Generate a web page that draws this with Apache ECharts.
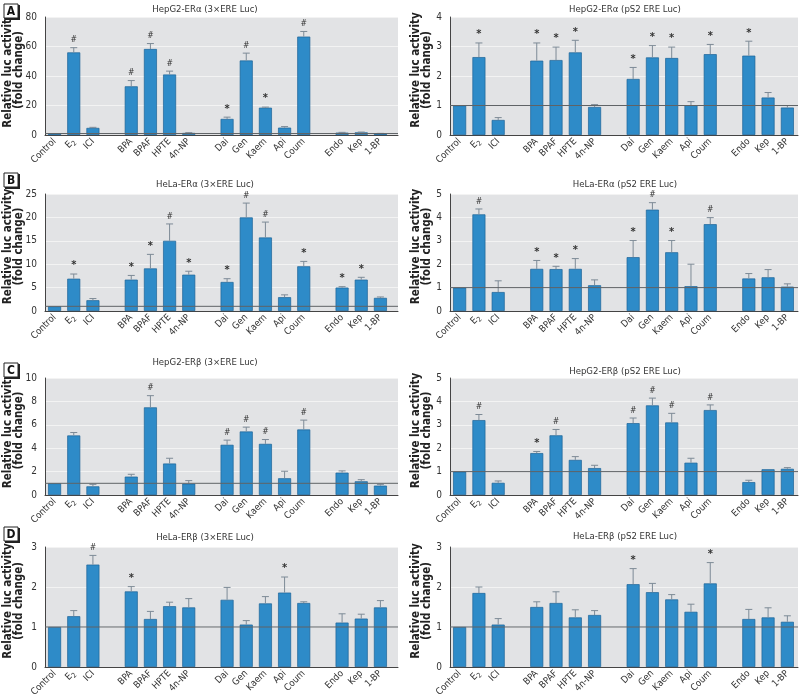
<!DOCTYPE html>
<html><head><meta charset="utf-8">
<script src="https://cdn.jsdelivr.net/npm/echarts@6/dist/echarts.min.js"></script>
<style>html,body{margin:0;padding:0;background:#fff}#c{width:800px;height:698px}</style>
</head><body><div id="c"></div><script>
// ---- categories (four groups separated by a blank slot) ----
const groups = [['Control','E2','ICI'],['BPA','BPAF','HPTE','4n-NP'],['Dai','Gen','Kaem','Api','Coum'],['Endo','Kep','1-BP']];

// ---- A: HepG2-ERα ----
const aLeftMean = [1.0, 56, 4.8, 33, 58.3, 41, 1.4, 10.9, 50.5, 18.5, 5.0, 66.7, 1.6, 1.8, 0.9];
const aLeftTop  = [1.0, 59.2, 5.2, 36.9, 62, 43.3, 1.6, 12.1, 55.5, 18.9, 5.7, 70.2, 1.8, 2.0, 1.1];
const aLeftSig  = ['', '#', '', '#', '#', '#', '', '*', '#', '*', '', '#', '', '', ''];
const aRightMean = [1.0, 2.64, 0.51, 2.52, 2.54, 2.8, 0.95, 1.9, 2.63, 2.61, 1.01, 2.74, 2.69, 1.27, 0.93];
const aRightTop  = [1.0, 3.12, 0.59, 3.12, 2.98, 3.21, 1.03, 2.29, 3.03, 2.98, 1.13, 3.07, 3.18, 1.44, 1.0];
const aRightSig  = ['', '*', '', '*', '*', '*', '', '*', '*', '*', '', '*', '*', '', ''];
// ---- B: HeLa-ERα ----
const bLeftMean = [1.0, 6.9, 2.3, 6.7, 9.1, 15.0, 7.76, 6.2, 20.0, 15.7, 2.95, 9.55, 5.0, 6.7, 2.8];
const bLeftTop  = [1.0, 7.9, 2.66, 7.6, 12.1, 18.6, 8.5, 6.9, 23.06, 19.0, 3.45, 10.6, 5.2, 7.2, 3.0];
const bLeftSig  = ['', '*', '', '*', '*', '#', '*', '*', '#', '#', '', '*', '*', '*', ''];
const bRightMean = [1.0, 4.13, 0.81, 1.8, 1.79, 1.8, 1.1, 2.3, 4.33, 2.51, 1.06, 3.71, 1.39, 1.44, 1.04];
const bRightTop  = [1.0, 4.36, 1.29, 2.16, 1.91, 2.24, 1.33, 3.01, 4.63, 3.01, 2.0, 3.99, 1.6, 1.77, 1.16];
const bRightSig  = ['', '#', '', '*', '*', '*', '', '*', '#', '*', '', '#', '', '', ''];
// ---- C: HepG2-ERβ ----
const cLeftMean = [1.0, 5.09, 0.74, 1.57, 7.49, 2.69, 0.97, 4.29, 5.43, 4.37, 1.43, 5.6, 1.91, 1.17, 0.8];
const cLeftTop  = [1.0, 5.34, 0.91, 1.77, 8.49, 3.14, 1.23, 4.69, 5.8, 4.74, 2.03, 6.4, 2.06, 1.31, 0.91];
const cLeftSig  = ['', '', '', '', '#', '', '', '#', '#', '#', '', '#', '', '', ''];
const cRightMean = [1.0, 3.2, 0.52, 1.79, 2.55, 1.5, 1.15, 3.07, 3.83, 3.1, 1.38, 3.63, 0.55, 1.1, 1.12];
const cRightTop  = [1.0, 3.44, 0.6, 1.86, 2.8, 1.64, 1.27, 3.29, 4.14, 3.49, 1.57, 3.85, 0.63, 1.1, 1.17];
const cRightSig  = ['', '#', '', '*', '#', '', '', '#', '#', '#', '', '#', '', '', ''];
// ---- D: HeLa-ERβ ----
const dLeftMean = [1.0, 1.27, 2.56, 1.89, 1.2, 1.52, 1.49, 1.68, 1.06, 1.59, 1.86, 1.6, 1.11, 1.21, 1.49];
const dLeftTop  = [1.0, 1.41, 2.79, 2.01, 1.39, 1.62, 1.71, 1.99, 1.16, 1.76, 2.25, 1.63, 1.33, 1.32, 1.66];
const dLeftSig  = ['', '', '#', '*', '', '', '', '', '', '', '*', '', '', '', ''];
const dRightMean = [1.0, 1.85, 1.06, 1.5, 1.6, 1.24, 1.3, 2.07, 1.87, 1.69, 1.38, 2.09, 1.2, 1.24, 1.13];
const dRightTop  = [1.0, 2.0, 1.21, 1.63, 1.88, 1.43, 1.41, 2.46, 2.09, 1.81, 1.57, 2.61, 1.44, 1.48, 1.28];
const dRightSig  = ['', '', '', '', '', '', '', '*', '', '', '', '*', '', '', ''];

// ---- y axis tick settings ----
const yMax      = {aL: 80, aR: 4, bL: 25, bR: 5, cL: 10, cR: 5, dL: 3, dR: 3};
const yInterval = {aL: 20, aR: 1, bL: 5, bR: 1, cL: 2, cR: 1, dL: 1, dR: 1};
const titles = {
  aL: 'HepG2-ERα (3×ERE Luc)', aR: 'HepG2-ERα (pS2 ERE Luc)',
  bL: 'HeLa-ERα (3×ERE Luc)',  bR: 'HeLa-ERα (pS2 ERE Luc)',
  cL: 'HepG2-ERβ (3×ERE Luc)', cR: 'HepG2-ERβ (pS2 ERE Luc)',
  dL: 'HeLa-ERβ (3×ERE Luc)',  dR: 'HeLa-ERβ (pS2 ERE Luc)'
};
const rowLetters = ['A', 'B', 'C', 'D'];
const yName = 'Relative luc activity\n(fold change)';
const refValue = 1;

// ---- layout (pixels) ----
const FONT = "'Liberation Sans Narrow','DejaVu Sans Condensed','Arial Narrow','Roboto Condensed','Liberation Sans',sans-serif";
const cols = [
  {plotL: 45, plotR: 398, dataW: 345, titleX: 205, nameX: 14},
  {plotL: 450, plotR: 798, dataW: 347, titleX: 625, nameX: 422}
];
const rows = [
  {top: 17, bottom: 135, titleY: [10, 10], box: 4},
  {top: 194, bottom: 311, titleY: [185, 185], box: 173},
  {top: 378, bottom: 495, titleY: [363, 372], box: 363},
  {top: 547, bottom: 667, titleY: [538, 537], box: 527}
];
const panels = [
  ['aL', aLeftMean, aLeftTop, aLeftSig, 0, 0], ['aR', aRightMean, aRightTop, aRightSig, 0, 1],
  ['bL', bLeftMean, bLeftTop, bLeftSig, 1, 0], ['bR', bRightMean, bRightTop, bRightSig, 1, 1],
  ['cL', cLeftMean, cLeftTop, cLeftSig, 2, 0], ['cR', cRightMean, cRightTop, cRightSig, 2, 1],
  ['dL', dLeftMean, dLeftTop, dLeftSig, 3, 0], ['dR', dRightMean, dRightTop, dRightSig, 3, 1]
];

// slots with blank gaps between groups
const slots = []; const slotOf = [];
groups.forEach((g, gi) => { if (gi > 0) slots.push(' '); g.forEach(n => { slotOf.push(slots.length); slots.push(n); }); });

const BAR = '#2e8bc8', BAR_EDGE = '#1d6396', BG = '#e2e3e5', AXIS = '#444', TXT = '#333';
const grids = [], xAxes = [], yAxes = [], series = [], graphics = [];

panels.forEach(([key, mean, top, sig, r, c]) => {
  const row = rows[r], col = cols[c];
  const h = row.bottom - row.top;
  const bgIdx = grids.length;
  // background grid (full plot box)
  grids.push({left: col.plotL, top: row.top, width: col.plotR - col.plotL, height: h, show: true,
    backgroundColor: BG, borderWidth: 0, containLabel: false, outerBoundsMode: 'none'});
  xAxes.push({gridIndex: bgIdx, type: 'value', min: 0, max: 1, axisLine: {show: true, lineStyle: {color: AXIS, width: 1}},
    axisTick: {show: false}, axisLabel: {show: false}, splitLine: {show: false}});
  yAxes.push({gridIndex: bgIdx, type: 'value', min: 0, max: yMax[key], interval: yInterval[key],
    axisLine: {show: false}, axisTick: {show: false}, axisLabel: {show: false},
    splitLine: {show: true, lineStyle: {color: '#f3f3f3', width: 1}}});
  // data grid
  const dIdx = grids.length;
  grids.push({left: col.plotL, top: row.top, width: col.dataW, height: h, show: false, containLabel: false, outerBoundsMode: 'none'});
  xAxes.push({gridIndex: dIdx, type: 'category', data: slots, boundaryGap: true,
    axisLine: {show: false}, axisTick: {show: false},
    axisLabel: {interval: 0, rotate: 45, margin: 5, fontSize: 9.5, color: TXT, fontFamily: FONT,
      formatter: v => v === 'E2' ? 'E{s|2}' : v,
      rich: {s: {fontSize: 7, fontFamily: FONT, color: TXT, padding: [6, 0, 0, 0]}}}});
  yAxes.push({gridIndex: dIdx, type: 'value', min: 0, max: yMax[key], interval: yInterval[key],
    axisLine: {show: true, lineStyle: {color: AXIS, width: 1}}, axisTick: {show: false},
    axisLabel: {fontSize: 10, color: TXT, fontFamily: FONT, margin: 8}, splitLine: {show: false}});

  const barData = slots.map(() => '-');
  mean.forEach((v, i) => { barData[slotOf[i]] = v; });
  series.push({type: 'bar', xAxisIndex: dIdx, yAxisIndex: dIdx, data: barData, barWidth: 13,
    itemStyle: {color: BAR, borderColor: BAR_EDGE, borderWidth: 0.7}, z: 2, silent: true});
  const errData = mean.map((v, i) => [slotOf[i], v, top[i]]);
  series.push({type: 'custom', xAxisIndex: dIdx, yAxisIndex: dIdx, data: errData, z: 3, silent: true,
    encode: {x: 0, y: [1, 2]},
    renderItem: (params, api) => {
      const x = api.value(0), m = api.value(1), t = api.value(2);
      const s = sig[params.dataIndex];
      const p0 = api.coord([x, m]), p1 = api.coord([x, t]);
      const ch = [];
      if (t > m + 1e-9) {
        ch.push({type: 'line', shape: {x1: p0[0], y1: p0[1], x2: p1[0], y2: p1[1]}, style: {stroke: '#7d8a96', lineWidth: 1}});
        ch.push({type: 'line', shape: {x1: p1[0] - 3.5, y1: p1[1], x2: p1[0] + 3.5, y2: p1[1]}, style: {stroke: '#7d8a96', lineWidth: 1}});
      }
      if (s) ch.push({type: 'text', style: {text: s, x: p1[0], y: p1[1] - 3, align: 'center', verticalAlign: 'bottom',
        textAlign: 'center', textVerticalAlign: 'bottom', fontSize: s === '*' ? 11 : 8.5, fontWeight: s === '*' ? 'bold' : 'normal',
        fontStyle: s === '#' ? 'italic' : 'normal', fontFamily: FONT, fill: TXT}});
      return {type: 'group', children: ch};
    }});
  // reference line at 1, spanning the full plot box
  series.push({type: 'line', xAxisIndex: bgIdx, yAxisIndex: bgIdx, data: [[0, refValue], [1, refValue]],
    symbol: 'none', lineStyle: {color: '#5f6366', width: 1}, z: 10, silent: true});

  // panel title
  graphics.push({type: 'text', x: col.titleX, y: row.titleY[c], silent: true,
    style: {text: titles[key], textAlign: 'center', textVerticalAlign: 'middle', fontSize: 9.5, fontFamily: FONT, fill: TXT}});
  // y axis name
  graphics.push({type: 'text', x: col.nameX, y: (row.top + row.bottom) / 2 - 6, rotation: Math.PI / 2, silent: true,
    style: {text: yName, textAlign: 'center', textVerticalAlign: 'middle', fontSize: 11.5, fontWeight: 'bold',
      lineHeight: 11, fontFamily: FONT, fill: '#222'}});
});

// row letters in boxes
rows.forEach((row, r) => {
  graphics.push({type: 'rect', shape: {x: 4, y: row.box, width: 14, height: 14}, silent: true,
    style: {fill: '#fff', stroke: '#222', lineWidth: 1}});
  graphics.push({type: 'polyline', shape: {points: [[19, row.box + 1], [19, row.box + 15], [5, row.box + 15]]}, silent: true,
    style: {fill: 'none', stroke: '#222', lineWidth: 2}});
  graphics.push({type: 'text', x: 11, y: row.box + 7.5, silent: true,
    style: {text: rowLetters[r], textAlign: 'center', textVerticalAlign: 'middle', fontSize: 12, fontWeight: 'bold', fontFamily: FONT, fill: '#111'}});
});

const chart = echarts.init(document.getElementById('c'), null, {renderer: 'canvas'});
chart.setOption({animation: false, backgroundColor: '#fff', grid: grids, xAxis: xAxes, yAxis: yAxes, series, graphic: graphics});
</script></body></html>
